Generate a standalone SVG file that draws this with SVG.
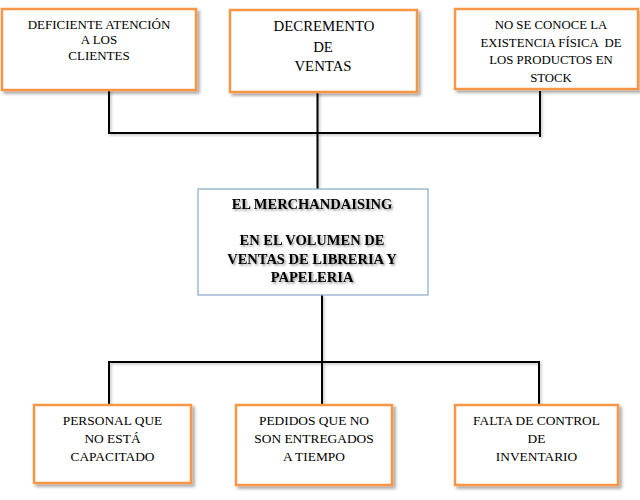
<svg xmlns="http://www.w3.org/2000/svg" width="640" height="500" viewBox="0 0 640 500">
<defs>
<filter id="sh" x="-10%" y="-10%" width="125%" height="130%">
<feDropShadow dx="2.5" dy="2.5" stdDeviation="1.5" flood-color="#000" flood-opacity="0.35"/>
</filter>
<filter id="lsh" x="-10%" y="-10%" width="130%" height="130%">
<feDropShadow dx="1.5" dy="1.5" stdDeviation="1" flood-color="#000" flood-opacity="0.25"/>
</filter>
<filter id="tsh" x="-10%" y="-20%" width="120%" height="160%">
<feDropShadow dx="1.5" dy="1.5" stdDeviation="1" flood-color="#000" flood-opacity="0.45"/>
</filter>
</defs>
<style>
.box{fill:#fff;stroke:#F79646;stroke-width:2.5;filter:url(#sh)}
.cbox{fill:#fff;stroke:#8FAED0;stroke-width:1.3}
.ln{fill:none;stroke:#000;stroke-width:2;filter:url(#lsh)}
</style>
<rect width="640" height="500" fill="#fff"/>
<g id="connectors">
<path class="ln" d="M109 90 V133 H540 M540 91 V137 M317.5 92 V189"/>
<path class="ln" d="M322 295 V405 M109 405 V362 H539 V405"/>
</g>
<g text-anchor="middle" fill="#000">
<g id="n1">
<rect class="box" x="2" y="9" width="194" height="81"/>
<text font-family="'Liberation Serif', serif" font-size="13" x="99" y="28.5">DEFICIENTE ATENCIÓN</text>
<text font-family="'Liberation Serif', serif" font-size="13" x="99" y="44">A LOS</text>
<text font-family="'Liberation Serif', serif" font-size="13" x="99" y="59.5">CLIENTES</text>
</g>
<g id="n2">
<rect class="box" x="230" y="10" width="187" height="82"/>
<text font-family="'Liberation Serif', serif" font-size="14.8" x="324" y="31">DECREMENTO</text>
<text font-family="'Liberation Serif', serif" font-size="14.8" x="323" y="52">DE</text>
<text font-family="'Liberation Serif', serif" font-size="14.8" x="323" y="70.5">VENTAS</text>
</g>
<g id="n3">
<rect class="box" x="455" y="9" width="183" height="80"/>
<text font-family="'Liberation Serif', serif" font-size="12.8" x="551" y="28.5">NO SE CONOCE LA</text>
<text font-family="'Liberation Serif', serif" font-size="12.8" x="551" y="46.5" xml:space="preserve">EXISTENCIA FÍSICA  DE</text>
<text font-family="'Liberation Serif', serif" font-size="12.8" x="551" y="64">LOS PRODUCTOS EN</text>
<text font-family="'Liberation Serif', serif" font-size="12.8" x="551" y="81.5">STOCK</text>
</g>
<g id="center">
<rect class="cbox" x="198" y="189" width="230" height="106"/>
<g filter="url(#tsh)">
<text font-family="'Liberation Serif', serif" font-size="14.5" font-weight="bold" x="312" y="209">EL MERCHANDAISING</text>
<text font-family="'Liberation Serif', serif" font-size="14.5" font-weight="bold" x="312" y="245">EN EL VOLUMEN DE</text>
<text font-family="'Liberation Serif', serif" font-size="14.5" font-weight="bold" x="312" y="264">VENTAS DE LIBRERIA Y</text>
<text font-family="'Liberation Serif', serif" font-size="14.5" font-weight="bold" x="312" y="282">PAPELERIA</text>
</g>
</g>
<g id="n4">
<rect class="box" x="34" y="405" width="157" height="78"/>
<text font-family="'Liberation Serif', serif" font-size="13.4" x="112.5" y="424.5">PERSONAL QUE</text>
<text font-family="'Liberation Serif', serif" font-size="13.4" x="112.5" y="442.5">NO ESTÁ</text>
<text font-family="'Liberation Serif', serif" font-size="13.4" x="112.5" y="460.5">CAPACITADO</text>
</g>
<g id="n5">
<rect class="box" x="236" y="405" width="156" height="80"/>
<text font-family="'Liberation Serif', serif" font-size="13.4" x="314" y="424.5">PEDIDOS QUE NO</text>
<text font-family="'Liberation Serif', serif" font-size="13.4" x="314" y="442.5">SON ENTREGADOS</text>
<text font-family="'Liberation Serif', serif" font-size="13.4" x="314" y="460.5">A TIEMPO</text>
</g>
<g id="n6">
<rect class="box" x="455" y="405" width="163" height="80"/>
<text font-family="'Liberation Serif', serif" font-size="13.4" x="536.5" y="424.5">FALTA DE CONTROL</text>
<text font-family="'Liberation Serif', serif" font-size="13.4" x="536.5" y="442.5">DE</text>
<text font-family="'Liberation Serif', serif" font-size="13.4" x="536.5" y="460.5">INVENTARIO</text>
</g>
</g>
</svg>
